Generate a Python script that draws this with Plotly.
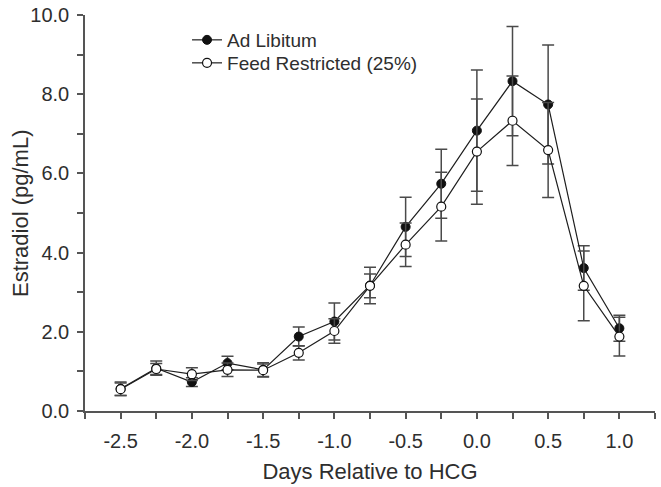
import plotly.graph_objects as go

days = [-2.5, -2.25, -2.0, -1.75, -1.5, -1.25, -1.0, -0.75, -0.5, -0.25, 0.0, 0.25, 0.5, 0.75, 1.0]
ad_libitum = [0.56, 1.08, 0.73, 1.21, 1.04, 1.88, 2.26, 3.17, 4.65, 5.74, 7.08, 8.33, 7.74, 3.61, 2.09]
ad_libitum_se = [0.17, 0.18, 0.11, 0.17, 0.18, 0.24, 0.47, 0.46, 0.75, 0.87, 1.53, 1.38, 1.50, 0.56, 0.33]
feed_restricted = [0.55, 1.06, 0.93, 1.04, 1.03, 1.47, 2.02, 3.16, 4.20, 5.16, 6.55, 7.33, 6.59, 3.16, 1.88]
feed_restricted_se = [0.16, 0.14, 0.16, 0.17, 0.16, 0.18, 0.31, 0.30, 0.55, 0.87, 1.33, 1.13, 1.20, 0.88, 0.49]

x_tickvals = [-2.5, -2.0, -1.5, -1.0, -0.5, 0.0, 0.5, 1.0]
x_ticktext = ["-2.5", "-2.0", "-1.5", "-1.0", "-0.5", "0.0", "0.5", "1.0"]
y_tickvals = [0, 2, 4, 6, 8, 10]
y_ticktext = ["0.0", "2.0", "4.0", "6.0", "8.0", "10.0"]
x_title = "Days Relative to HCG"
y_title = "Estradiol (pg/mL)"

FONT = "Liberation Sans, Arial, sans-serif"
LINE = "#1e1e1e"
ERR = "#4a4a4a"
AXIS = "#555555"
TXT = "#2e2e2e"

fig = go.Figure()
fig.add_trace(go.Scatter(
    x=days, y=ad_libitum, name="Ad Libitum", mode="lines+markers", legend="legend",
    line=dict(color=LINE, width=1.2),
    marker=dict(symbol="circle", size=9, color="#111111", line=dict(color="#111111", width=1)),
    error_y=dict(type="data", array=ad_libitum_se, visible=True, color=ERR, thickness=1.5, width=6),
))
fig.add_trace(go.Scatter(
    x=days, y=feed_restricted, name="Feed Restricted (25%)", mode="lines+markers", legend="legend2",
    line=dict(color=LINE, width=1.2),
    marker=dict(symbol="circle", size=9, color="white", line=dict(color="#111111", width=1.2)),
    error_y=dict(type="data", array=feed_restricted_se, visible=True, color=ERR, thickness=1.5, width=6),
))

leg_common = dict(xanchor="left", yanchor="middle", font=dict(family=FONT, size=19, color=TXT),
                  bgcolor="rgba(0,0,0,0)", borderwidth=0)

fig.update_layout(
    width=661, height=487,
    margin=dict(l=85, r=6, t=15, b=76),
    paper_bgcolor="white", plot_bgcolor="white",
    font=dict(family=FONT, size=19, color=TXT),
    showlegend=True,
    legend=dict(x=0.179, y=(411 - 40) / 396, **leg_common),
    legend2=dict(x=0.179, y=(411 - 63) / 396, **leg_common),
    xaxis=dict(
        range=[-2.75, 1.25], showgrid=False, zeroline=False, automargin=False,
        showline=True, linecolor=AXIS, linewidth=1.5,
        ticks="outside", ticklen=6, tickwidth=1.5, tickcolor=AXIS,
        tickvals=x_tickvals, ticktext=x_ticktext, ticklabelstandoff=5,
        tickfont=dict(family=FONT, size=20, color=TXT),
        minor=dict(dtick=0.25, tick0=0, ticks="outside", ticklen=6, tickwidth=1.5, tickcolor=AXIS),
        title=dict(text=x_title, font=dict(family=FONT, size=22, color=TXT), standoff=13),
    ),
    yaxis=dict(
        range=[0, 10], showgrid=False, zeroline=False, automargin=False,
        showline=True, linecolor=AXIS, linewidth=1.5,
        ticks="outside", ticklen=6, tickwidth=1.5, tickcolor=AXIS,
        tickvals=y_tickvals, ticktext=y_ticktext, ticklabelstandoff=4,
        tickfont=dict(family=FONT, size=20, color=TXT),
        minor=dict(dtick=1, tick0=0, ticks="outside", ticklen=6, tickwidth=1.5, tickcolor=AXIS),
    ),
    annotations=[dict(
        text=y_title, xref="paper", yref="paper", x=0, y=0.5,
        xanchor="center", yanchor="middle", xshift=-65, textangle=-90,
        showarrow=False, font=dict(family=FONT, size=22, color=TXT),
    )],
)

fig.write_html(
    "out.html",
    config={"displayModeBar": False},
    post_script="document.body.style.margin='0px';document.body.style.overflow='hidden';",
)
